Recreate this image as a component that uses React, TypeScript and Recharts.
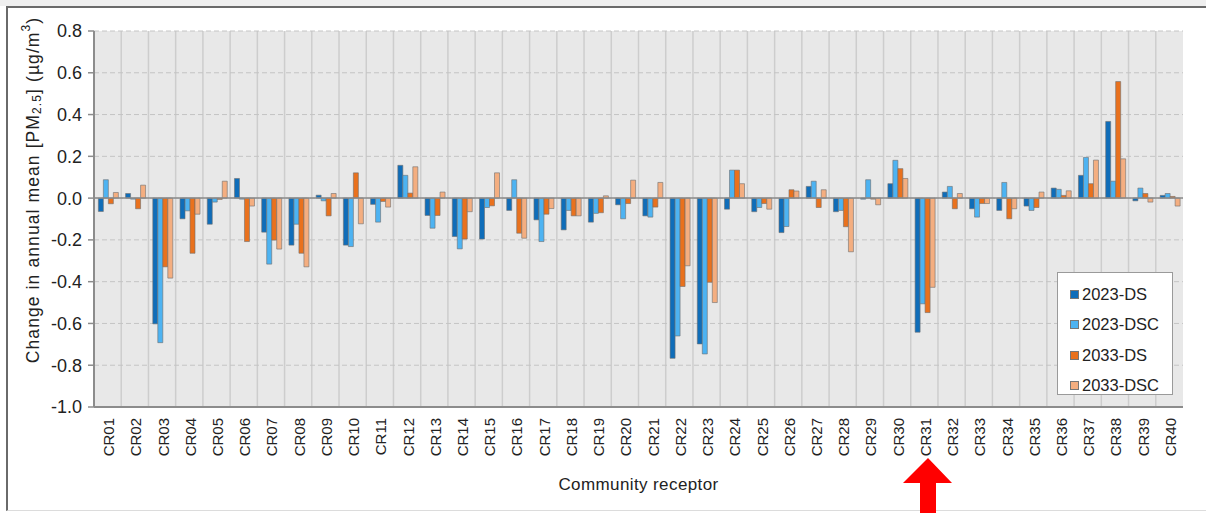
import React from "react";
import {
  BarChart, Bar, XAxis, YAxis, CartesianGrid, ReferenceLine, Legend,
} from "recharts";

const receptors = [
  "CR01", "CR02", "CR03", "CR04", "CR05", "CR06", "CR07", "CR08", "CR09", "CR10",
  "CR11", "CR12", "CR13", "CR14", "CR15", "CR16", "CR17", "CR18", "CR19", "CR20",
  "CR21", "CR22", "CR23", "CR24", "CR25", "CR26", "CR27", "CR28", "CR29", "CR30",
  "CR31", "CR32", "CR33", "CR34", "CR35", "CR36", "CR37", "CR38", "CR39", "CR40",
];

const ds2023 = [
  -0.064, 0.022, -0.602, -0.099, -0.125, 0.094, -0.163, -0.225, 0.014, -0.225,
  -0.03, 0.157, -0.083, -0.184, -0.196, -0.059, -0.104, -0.152, -0.115, -0.032,
  -0.085, -0.767, -0.698, -0.053, -0.065, -0.165, 0.056, -0.065, -0.005, 0.069,
  -0.642, 0.029, -0.051, -0.059, -0.038, 0.048, 0.109, 0.367, -0.013, 0.013,
];
const dsc2023 = [
  0.088, -0.005, -0.692, -0.061, -0.019, -0.005, -0.316, -0.125, -0.013, -0.232,
  -0.115, 0.109, -0.144, -0.243, -0.045, 0.088, -0.208, -0.059, -0.073, -0.099,
  -0.091, -0.66, -0.746, 0.134, -0.045, -0.136, 0.081, -0.059, 0.088, 0.181,
  -0.506, 0.056, -0.091, 0.075, -0.059, 0.042, 0.195, 0.081, 0.048, 0.022,
];
const ds2033 = [
  -0.027, -0.051, -0.329, -0.264, -0.006, -0.208, -0.201, -0.264, -0.085, 0.121,
  -0.016, 0.024, -0.083, -0.196, -0.037, -0.168, -0.077, -0.085, -0.07, -0.026,
  -0.043, -0.423, -0.403, 0.134, -0.026, 0.04, -0.045, -0.137, -0.005, 0.141,
  -0.548, -0.051, -0.026, -0.099, -0.045, 0.013, 0.069, 0.558, 0.022, 0.008,
];
const dsc2033 = [
  0.027, 0.062, -0.383, -0.077, 0.081, -0.038, -0.244, -0.329, 0.022, -0.123,
  -0.043, 0.15, 0.029, -0.065, 0.121, -0.192, -0.05, -0.085, 0.011, 0.086,
  0.075, -0.324, -0.5, 0.069, -0.053, 0.034, 0.04, -0.257, -0.032, 0.094,
  -0.427, 0.022, -0.026, -0.051, 0.029, 0.035, 0.182, 0.188, -0.019, -0.038,
];

const yTicks = [-1.0, -0.8, -0.6, -0.4, -0.2, 0.0, 0.2, 0.4, 0.6, 0.8];

const series = [
  { key: "ds2023", label: "2023-DS", color: "#0F6DB9" },
  { key: "dsc2023", label: "2023-DSC", color: "#4DB3F2" },
  { key: "ds2033", label: "2033-DS", color: "#E9711D" },
  { key: "dsc2033", label: "2033-DSC", color: "#F4AE80" },
];

const data = receptors.map((name, i) => ({
  name,
  ds2023: ds2023[i],
  dsc2023: dsc2023[i],
  ds2033: ds2033[i],
  dsc2033: dsc2033[i],
}));

const FONT = "'Liberation Sans', Arial, sans-serif";

function CategoryTick({ x, y, payload }: any) {
  const ty = y + 3;
  return (
    <text
      x={x + 1}
      y={ty}
      transform={`rotate(-90, ${x + 1}, ${ty})`}
      textAnchor="end"
      dominantBaseline="central"
      fontSize={15}
      fontFamily={FONT}
      fill="#222"
    >
      {payload.value}
    </text>
  );
}

function YTitle() {
  const cx = 33;
  const cy = 190;
  return (
    <text
      x={cx}
      y={cy}
      transform={`rotate(-90, ${cx}, ${cy})`}
      textAnchor="middle"
      dominantBaseline="central"
      fontSize={17.5}
      letterSpacing={1.1}
      fontFamily={FONT}
      fill="#222"
    >
      Change in annual mean [PM
      <tspan fontSize={12} dy={4}>2.5</tspan>
      <tspan dy={-4}>] (µg/m</tspan>
      <tspan fontSize={12} dy={-7}>3</tspan>
      <tspan dy={7}>)</tspan>
    </text>
  );
}

function LegendBox() {
  return (
    <div
      style={{
        width: 116,
        height: 123,
        background: "#fff",
        border: "1px solid #9a9a9a",
        boxSizing: "border-box",
        paddingTop: 6,
        fontFamily: FONT,
        fontSize: 16.5,
        color: "#222",
      }}
    >
      {series.map((s) => (
        <div key={s.key} style={{ display: "flex", alignItems: "center", height: 30.5, paddingLeft: 12 }}>
          <span
            style={{
              display: "inline-block",
              width: 9,
              height: 9,
              background: s.color,
              border: "1px solid #777",
              boxSizing: "border-box",
              marginRight: 3,
            }}
          />
          <span>{s.label}</span>
        </div>
      ))}
    </div>
  );
}

export default function App() {
  const nCat = receptors.length;
  return (
    <div style={{ position: "absolute", left: 0, top: 0, width: 1206, height: 513, background: "#fff", overflow: "hidden" }}>
      <div style={{ position: "absolute", left: 0, top: 0, width: 1206, height: 6, background: "#efefef" }} />
      <div
        style={{
          position: "absolute", left: 6, top: 6, width: 1200, height: 505,
          borderLeft: "2px solid #6a6a6a", borderTop: "2px solid #6a6a6a",
          borderBottom: "1px solid #dcdcdc", boxSizing: "border-box",
        }}
      />
      <div style={{ position: "absolute", left: 0, top: 0 }}>
        <BarChart
          width={1206}
          height={513}
          data={data}
          margin={{ top: 31, right: 23, bottom: 18, left: 34 }}
          barCategoryGap="16%"
          barGap={0}
        >
          <CartesianGrid
            fill="#e8e8e8"
            horizontal={false}
            stroke="#cdcdcd"
            strokeWidth={1.5}
            verticalCoordinatesGenerator={({ offset }: any) =>
              receptors.slice(1).map((_, i) => offset.left + ((i + 1) * offset.width) / nCat)
            }
          />
          <CartesianGrid vertical={false} stroke="#c4c4c4" strokeDasharray="5 3" />
          <XAxis
            dataKey="name"
            interval={0}
            height={88}
            tick={<CategoryTick />}
            tickLine={false}
            axisLine={{ stroke: "#8c8c8c", strokeWidth: 2 }}
            label={{
              value: "Community receptor",
              position: "insideBottom",
              offset: 5,
              fontSize: 17,
              fontFamily: FONT,
              fill: "#222",
              letterSpacing: 0.4,
            }}
          />
          <XAxis xAxisId="top" dataKey="name" orientation="top" height={0} tick={false} tickLine={false} axisLine={{ stroke: "#a8a8a8", strokeWidth: 1.5 }} />
          <YAxis
            domain={[-1, 0.8]}
            ticks={yTicks}
            width={60}
            tickSize={6}
            tickMargin={6}
            tickFormatter={(v: number) => v.toFixed(1)}
            tick={{ fontSize: 18, fontFamily: FONT, fill: "#222" }}
            tickLine={{ stroke: "#8c8c8c", strokeWidth: 1.5 }}
            axisLine={{ stroke: "#8c8c8c", strokeWidth: 2 }}
            label={{ content: () => <YTitle /> }}
          />
          <YAxis yAxisId="right" orientation="right" domain={[-1, 0.8]} width={0} tick={false} tickLine={false} axisLine={{ stroke: "#a8a8a8", strokeWidth: 1.5 }} />
          <ReferenceLine y={0} stroke="#8a8a8a" strokeWidth={1.5} />
          {series.map((s) => (
            <Bar
              key={s.key}
              dataKey={s.key}
              name={s.label}
              fill={s.color}
              stroke="#6e6e6e"
              strokeWidth={0.6}
              isAnimationActive={false}
            />
          ))}
          <Legend
            layout="vertical"
            align="center"
            verticalAlign="middle"
            wrapperStyle={{ left: 1057, top: 272, width: 116 }}
            content={() => <LegendBox />}
          />
        </BarChart>
      </div>
      <svg style={{ position: "absolute", left: 0, top: 0 }} width={1206} height={513}>
        <polygon points="928,458 903,483 920,483 920,513 936,513 936,483 952,483" fill="#ff0000" />
      </svg>
    </div>
  );
}
